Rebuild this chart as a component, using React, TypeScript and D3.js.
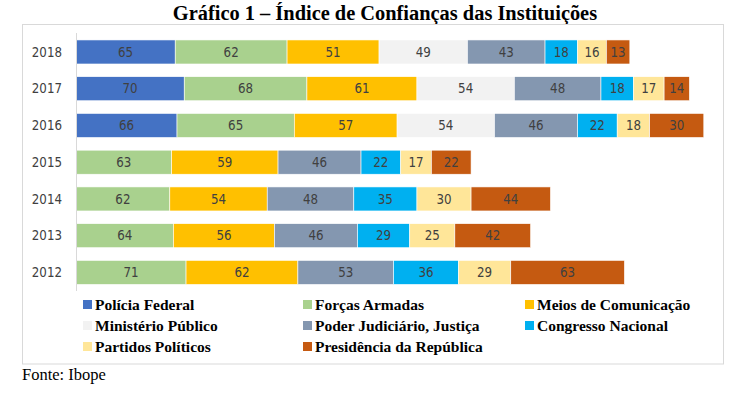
import React from "react";
import * as d3 from "d3";

const years = ["2018", "2017", "2016", "2015", "2014", "2013", "2012"];
const seriesNames = [
  "Polícia Federal",
  "Forças Armadas",
  "Meios de Comunicação",
  "Ministério Público",
  "Poder Judiciário, Justiça",
  "Congresso Nacional",
  "Partidos Políticos",
  "Presidência da República",
];
const policiaFederal = [65, 70, 66, null, null, null, null];
const forcasArmadas = [62, 68, 65, 63, 62, 64, 71];
const meiosComunicacao = [51, 61, 57, 59, 54, 56, 62];
const ministerioPublico = [49, 54, 54, null, null, null, null];
const poderJudiciario = [43, 48, 46, 46, 48, 46, 53];
const congressoNacional = [18, 18, 22, 22, 35, 29, 36];
const partidosPoliticos = [16, 17, 18, 17, 30, 25, 29];
const presidencia = [13, 14, 30, 22, 44, 42, 63];

const seriesValues = [
  policiaFederal,
  forcasArmadas,
  meiosComunicacao,
  ministerioPublico,
  poderJudiciario,
  congressoNacional,
  partidosPoliticos,
  presidencia,
];
const colors = ["#4472C4", "#A9D18E", "#FFC000", "#F2F2F2", "#8497B0", "#00B0F0", "#FFE699", "#C55A11"];

const axisMin = 10;
const axisMax = 360;

export default function App() {
  const W = 738;
  const H = 395;
  const rows = years.map((y, i) => {
    const r: any = { year: y };
    seriesNames.forEach((s, k) => (r[s] = seriesValues[k][i]));
    return r;
  });
  const stack = d3.stack<any>().keys(seriesNames).value((d, k) => (d[k] == null ? 0 : d[k]));
  const layers = stack(rows);

  const x = d3.scaleLinear().domain([axisMin, axisMax]).range([76, 707.4]).clamp(true);
  const y = d3.scaleBand().domain(years).range([33.6, 290.8]).paddingInner(0.346).paddingOuter(0.173);

  const numFont = "'DejaVu Sans Condensed', 'Liberation Sans Narrow', sans-serif";
  const serif = "'Liberation Serif', 'Times New Roman', serif";

  const legendCols = [83, 303, 525];
  const legendRows = [300, 321, 342];

  return (
    <svg width={W} height={H} style={{ position: "absolute", left: 0, top: 0, background: "#fff" }}>
      <rect x={0} y={0} width={W} height={H} fill="#fff" />
      <text x={385} y={20} textAnchor="middle" fontFamily={serif} fontWeight="bold" fontSize={20.4} fill="#000">
        Gráfico 1 – Índice de Confianças das Instituições
      </text>
      <rect x={22.5} y={24.5} width={701} height={339.5} fill="none" stroke="#d9d9d9" strokeWidth={1} />

      {layers.map((layer, li) => (
        <g key={layer.key}>
          {layer.map((seg, i) => {
            const v = seriesValues[li][i];
            if (v == null) return null;
            const x0 = x(seg[0]);
            const x1 = x(seg[1]);
            const yy = y(years[i])!;
            return (
              <g key={i}>
                <rect x={x0} y={yy} width={x1 - x0} height={y.bandwidth()} fill={colors[li]} stroke="#fff" strokeWidth={0.6} />
                <text
                  x={(x0 + x1) / 2}
                  y={yy + y.bandwidth() / 2}
                  dy="0.36em"
                  textAnchor="middle"
                  fontFamily={numFont}
                  fontSize={13.2}
                  fill="#404040"
                >
                  {v}
                </text>
              </g>
            );
          })}
        </g>
      ))}

      <line x1={76.5} x2={76.5} y1={33} y2={291} stroke="#d9d9d9" strokeWidth={1} />
      {years.map((yr) => (
        <text
          key={yr}
          x={62}
          y={y(yr)! + y.bandwidth() / 2}
          dy="0.36em"
          textAnchor="end"
          fontFamily={numFont}
          fontSize={13.2}
          fill="#404040"
        >
          {yr}
        </text>
      ))}

      {seriesNames.map((s, k) => {
        const col = k % 3;
        const row = Math.floor(k / 3);
        const lx = legendCols[col];
        const ly = legendRows[row];
        return (
          <g key={s}>
            <rect x={lx} y={ly} width={9} height={9} fill={colors[k]} />
            <text x={lx + 12} y={ly + 9.5} fontFamily={serif} fontWeight="bold" fontSize={15.5} fill="#000">
              {s}
            </text>
          </g>
        );
      })}

      <text x={22} y={380} fontFamily={serif} fontSize={16.5} fill="#000">
        Fonte: Ibope
      </text>
    </svg>
  );
}
